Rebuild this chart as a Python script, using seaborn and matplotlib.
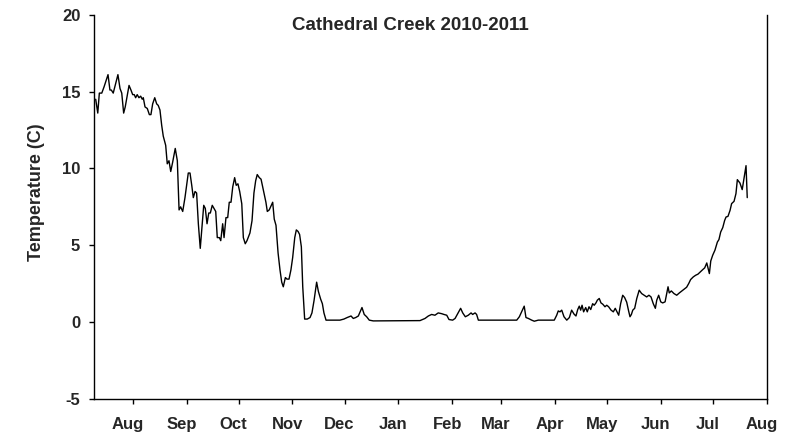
import numpy as np
import pandas as pd
import matplotlib
matplotlib.use("Agg")
import matplotlib.pyplot as plt
from matplotlib.transforms import ScaledTranslation
import seaborn as sns

# Logger readings: days since 1 Aug 2010 and water temperature (deg C)
day_offset = [
    -21.3, -20.1, -19.2, -17.8, -16.5, -14.2, -13.1, -12.3, -11.2, -8.5,
    -7.3, -6.3, -5.2, -4.3, -2.1, -1.0, 0.0, 0.9, 1.7, 2.6,
    3.6, 4.6, 5.5, 6.1, 7.1, 8.4, 9.6, 10.5, 11.5, 12.7,
    13.8, 14.7, 15.7, 16.7, 17.6, 19.0, 19.9, 20.9, 21.9, 23.0,
    24.5, 25.7, 26.7, 27.6, 28.8, 30.1, 32.0, 33.0, 34.0, 34.9,
    35.9, 36.8, 37.8, 38.9, 39.9, 40.9, 41.8, 42.8, 43.8, 44.7,
    45.8, 46.8, 47.8, 48.7, 49.9, 50.7, 51.8, 52.6, 53.7, 54.7,
    55.6, 56.6, 57.6, 58.7, 59.6, 60.6, 61.6, 62.8, 63.7, 64.8,
    65.8, 67.5, 68.7, 69.8, 70.8, 71.7, 72.9, 73.9, 75.2, 76.7,
    77.5, 78.6, 80.6, 81.5, 82.5, 83.7, 84.8, 85.8, 86.7, 87.9,
    88.8, 90.0, 91.1, 92.1, 93.3, 94.2, 95.2, 96.1, 97.1, 97.9,
    99.0, 100.5, 102.1, 103.2, 104.4, 105.9, 106.9, 108.2, 109.2, 110.1,
    111.3, 113.6, 117.4, 119.3, 121.6, 123.5, 125.7, 127.0, 128.4, 129.9,
    132.0, 133.3, 134.7, 136.2, 138.5, 165.4, 168.3, 170.2, 172.1, 174.0,
    175.9, 177.9, 179.2, 180.8, 182.1, 184.2, 185.6, 187.1, 188.8, 190.0,
    191.5, 193.2, 194.8, 195.7, 197.1, 198.0, 199.0, 221.1, 222.6, 224.0,
    225.4, 226.4, 227.8, 229.7, 231.2, 233.5, 242.7, 244.1, 245.0, 246.0,
    247.0, 248.3, 249.9, 251.4, 252.7, 254.1, 255.2, 256.2, 257.1, 257.9,
    258.7, 259.6, 260.8, 261.7, 262.7, 263.7, 264.8, 265.7, 266.7, 267.5,
    268.6, 269.6, 270.6, 271.9, 272.9, 274.0, 275.4, 276.7, 277.8, 278.8,
    279.8, 280.9, 282.1, 283.2, 284.4, 285.5, 286.3, 287.1, 287.9, 289.0,
    290.2, 291.6, 293.0, 294.4, 295.9, 297.2, 298.4, 299.7, 300.9, 301.7,
    302.8, 304.0, 305.1, 306.5, 307.4, 308.2, 308.9, 310.1, 311.6, 313.2,
    314.7, 316.2, 317.8, 318.9, 320.1, 321.2, 322.7, 324.1, 325.4, 326.6,
    328.2, 329.3, 330.5, 332.0, 332.8, 333.9, 335.2, 336.6, 337.5, 338.5,
    339.7, 340.8, 341.6, 342.7, 343.9, 344.8, 346.2, 347.3, 348.1, 349.6,
    350.9, 353.1, 353.8,
]
temp_c = [
    14.5, 13.6, 14.9, 14.9, 15.3, 16.1, 15.1, 15.1, 14.9, 16.1,
    15.2, 14.9, 13.6, 14.0, 15.4, 15.1, 14.8, 14.8, 14.6, 14.8,
    14.6, 14.7, 14.5, 14.6, 14.0, 13.9, 13.5, 13.5, 14.2, 14.6,
    14.2, 14.1, 13.8, 12.8, 12.1, 11.5, 10.3, 10.5, 9.8, 10.4,
    11.3, 10.5, 7.3, 7.5, 7.2, 8.1, 9.7, 9.7, 8.9, 8.1,
    8.5, 8.4, 6.4, 4.8, 6.2, 7.6, 7.4, 6.4, 7.1, 7.1,
    7.6, 7.4, 7.2, 5.5, 5.5, 5.3, 6.4, 5.5, 6.8, 6.8,
    7.8, 7.8, 8.8, 9.4, 8.9, 9.0, 8.5, 7.7, 5.5, 5.1,
    5.3, 5.8, 6.6, 8.4, 9.2, 9.6, 9.4, 9.3, 8.6, 7.8,
    7.2, 7.3, 7.8, 6.7, 6.3, 4.5, 3.4, 2.6, 2.3, 2.9,
    2.8, 2.8, 3.4, 4.2, 5.5, 6.0, 5.9, 5.7, 4.9, 2.3,
    0.2, 0.2, 0.3, 0.6, 1.4, 2.6, 2.0, 1.5, 1.2, 0.6,
    0.13, 0.13, 0.13, 0.13, 0.2, 0.3, 0.4, 0.24, 0.3, 0.4,
    0.95, 0.5, 0.35, 0.13, 0.08, 0.1, 0.24, 0.4, 0.5, 0.45,
    0.6, 0.55, 0.5, 0.45, 0.17, 0.13, 0.24, 0.55, 0.9, 0.6,
    0.35, 0.45, 0.6, 0.5, 0.6, 0.5, 0.13, 0.13, 0.35, 0.7,
    1.04, 0.3, 0.24, 0.13, 0.06, 0.13, 0.13, 0.45, 0.73, 0.67,
    0.78, 0.35, 0.13, 0.3, 0.78, 0.52, 0.4, 0.82, 1.04, 0.78,
    1.1, 0.67, 0.95, 0.67, 1.0, 0.82, 1.2, 1.1, 1.25, 1.43,
    1.54, 1.25, 1.17, 1.0, 1.1, 1.0, 0.78, 0.67, 0.9, 0.67,
    0.45, 1.2, 1.75, 1.6, 1.3, 0.73, 0.35, 0.5, 0.78, 0.9,
    1.54, 2.08, 1.86, 1.75, 1.64, 1.75, 1.64, 1.2, 0.9, 1.43,
    1.75, 1.32, 1.25, 1.32, 1.82, 2.3, 1.9, 2.03, 1.86, 1.75,
    1.9, 2.03, 2.16, 2.27, 2.51, 2.77, 2.94, 3.05, 3.12, 3.25,
    3.42, 3.53, 3.85, 3.16, 3.98, 4.35, 4.68, 5.21, 5.37, 5.86,
    6.15, 6.62, 6.84, 6.88, 7.27, 7.71, 7.86, 8.36, 9.27, 9.05,
    8.62, 10.18, 8.1,
]

title_text = "Cathedral Creek 2010-2011"
y_label = "Temperature (C)"
y_ticks = [-5, 0, 5, 10, 15, 20]
month_starts = ["2010-08-01", "2010-09-01", "2010-10-01", "2010-11-01",
                "2010-12-01", "2011-01-01", "2011-02-01", "2011-03-01",
                "2011-04-01", "2011-05-01", "2011-06-01", "2011-07-01",
                "2011-08-01"]
month_labels = ["Aug", "Sep", "Oct", "Nov", "Dec", "Jan", "Feb", "Mar",
                "Apr", "May", "Jun", "Jul", "Aug"]
start = pd.Timestamp("2010-08-01")

sns.set_style("ticks")
plt.rcParams["font.family"] = ["Liberation Sans", "DejaVu Sans"]
plt.rcParams["font.weight"] = "bold"

dates = start + pd.to_timedelta(np.array(day_offset), unit="D")
df = pd.DataFrame({"date": dates, "temp": temp_c})

fig = plt.figure(figsize=(7.88, 4.33), dpi=100)
ax = fig.add_axes([94.3 / 788, 1 - 399 / 433, (766.7 - 94.3) / 788, (399 - 14.7) / 433])

sns.lineplot(data=df, x="date", y="temp", ax=ax, color="black", linewidth=1.0)

ax.set_xlim(start - pd.Timedelta(days=22.1), pd.Timestamp("2011-08-01"))
ax.set_ylim(-5, 20)
ax.set_yticks(y_ticks)
ax.set_yticklabels([str(t) for t in y_ticks], fontsize=12, fontweight="bold")

ax.set_xticks(pd.to_datetime(month_starts))
ax.set_xticklabels(month_labels, fontsize=12, fontweight="bold")

ax.set_xlabel("")
ax.set_ylabel(y_label, fontsize=13, fontweight="bold", va="center")
ax.yaxis.set_label_coords((37 - 94.3) / 672.4, (399 - 192) / 384.3)

ax.tick_params(axis="both", direction="out", length=3.6, width=1.0, color="black")
ax.tick_params(axis="y", pad=6.5)
ax.tick_params(axis="x", pad=9.5)
for side in ("left", "bottom", "right"):
    ax.spines[side].set_color("black")
    ax.spines[side].set_linewidth(1.0)
ax.spines["top"].set_visible(False)

# month names sit a little to the left of their tick marks
shift = ScaledTranslation(-3.6 / 72, 0, fig.dpi_scale_trans)
for tick in ax.xaxis.get_major_ticks():
    tick.label1.set_transform(tick.label1.get_transform() + shift)

fig.text(410 / 788, 1 - 25 / 433, title_text, ha="center", va="center",
         fontsize=13.5, fontweight="bold")

fig.savefig("out.png", dpi=100)
